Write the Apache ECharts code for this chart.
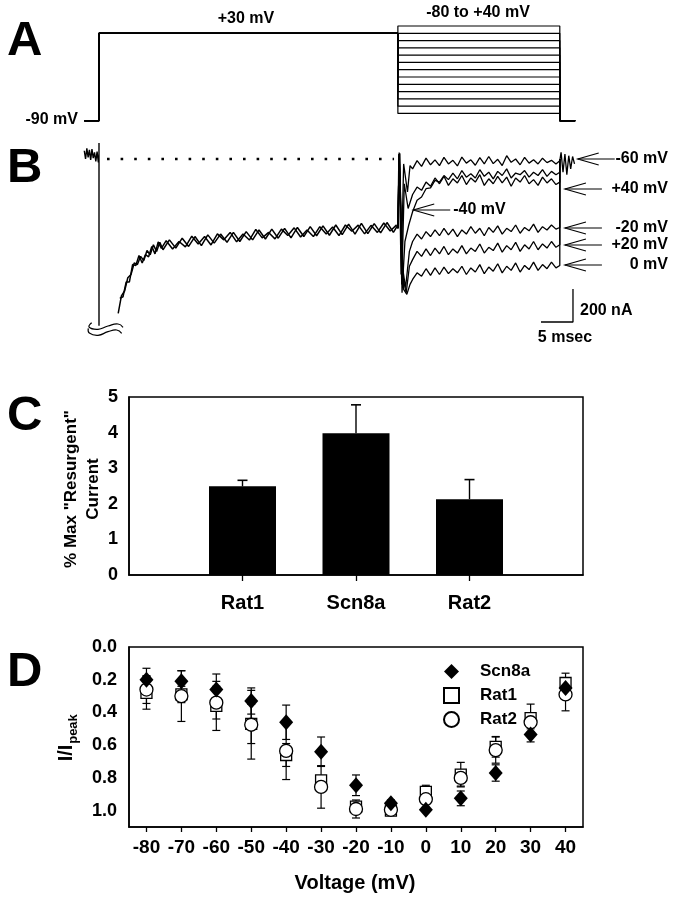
<!DOCTYPE html>
<html><head><meta charset="utf-8">
<script src="https://cdn.jsdelivr.net/npm/echarts@6/dist/echarts.min.js"></script>
<style>html,body{margin:0;padding:0;background:#fff}#c{width:676px;height:899px}</style>
</head><body><div id="c"></div>
<script>
const FONT = '"Liberation Sans", Arial, Helvetica, sans-serif';

// ---------- Panel A: voltage protocol (ms, mV) ----------
const holdV = -90;
const prepulseV = 30;
const testLevels = [-80,-70,-60,-50,-40,-30,-20,-10,0,10,20,30,40];
const protoT = [-2.3, 0, 46.7, 72, 74.4]; // start, prepulse on, test on, test off, end

// ---------- Panel B: currents (ms, nA) ----------
const preT = [-2.3,-2.1,-1.9,-1.7,-1.5,-1.3,-1.1,-0.9,-0.7,-0.5,-0.3,-0.1,0,0,0];
const preI = [50,0,65,10,55,-5,60,5,40,-15,45,-20,20,97,-1010];
const recT = [3.0,3.5,4.0,4.5,5.0,5.5,6.0,6.5,7.0,7.5,8.0,8.5,9.0,9.5,10,11,12,13,14,15,16,17,18,19,20,21,22,23,24,25,26,27,28,29,30,31,32,33,34,35,36,37,38,39,40,41,42,43,44,45,46,46.7];
const recI = [-935,-830,-800,-720,-700,-630,-640,-590,-615,-555,-580,-520,-560,-505,-550,-490,-540,-480,-530,-470,-525,-460,-510,-455,-505,-445,-500,-440,-490,-430,-485,-425,-480,-420,-478,-415,-470,-410,-465,-405,-462,-400,-458,-395,-455,-390,-452,-392,-448,-385,-445,-400];
const rec2T = [3.25,3.75,4.25,4.75,5.25,5.75,6.25,6.75,7.25,7.75,8.25,8.75,9.25,9.75,10.5,11.5,12.5,13.5,14.5,15.5,16.5,17.5,18.5,19.5,20.5,21.5,22.5,23.5,24.5,25.5,26.5,27.5,28.5,29.5,30.5,31.5,32.5,33.5,34.5,35.5,36.5,37.5,38.5,39.5,40.5,41.5,42.5,43.5,44.5,45.5,46.5];
const rec2I = [-845,-835,-745,-745,-640,-645,-585,-630,-580,-593,-530,-575,-502,-542,-495,-545,-500,-533,-468,-515,-470,-521,-454,-490,-445,-502,-455,-491,-427,-478,-445,-484,-425,-464,-417,-473,-430,-470,-410,-454,-412,-464,-400,-438,-401,-454,-402,-445,-388,-436,-399];
const baselineT = [1.25, 46.1];
const baselineI = [0, 0];
// test-pulse traces: transient part then noisy part on shared time base
const postT = [49.0,49.7,50.4,51.1,51.8,52.5,53.2,53.9,54.6,55.3,56.0,56.7,57.4,58.1,58.8,59.5,60.2,60.9,61.6,62.3,63.0,63.7,64.4,65.1,65.8,66.5,67.2,67.9,68.6,69.3,70.0,70.7,71.4,72.0];
const tracem60T = [46.7,46.9,47.2,47.6,48.2,48.6];
const tracem60I = [-420,40,-700,-30,-200,-40];
const tracem60 = [-60,-10,-45,5,-35,-5,-40,10,-30,-8,-42,12,-25,-5,-38,8,-30,15,-28,-2,-40,20,-20,0,-35,10,-25,-5,-30,5,-22,-8,-30,-10];
const tracep40T = [46.7,46.95,47.3,47.7,48.3];
const tracep40I = [-420,30,-760,-150,-300];
const tracep40 = [-215,-170,-190,-140,-165,-115,-150,-105,-160,-120,-145,-100,-155,-115,-140,-95,-160,-120,-150,-105,-145,-110,-165,-115,-140,-100,-150,-125,-160,-110,-145,-120,-155,-140];
const tracem40T = [46.7,47.0,47.35,47.8,48.4];
const tracem40I = [-420,35,-810,-500,-400];
const tracem40 = [-320,-250,-230,-180,-175,-130,-140,-100,-125,-85,-120,-70,-110,-90,-115,-65,-105,-80,-120,-75,-100,-60,-115,-85,-95,-70,-110,-80,-100,-65,-105,-75,-95,-80];
const tracem20T = [46.7,46.9,47.4,47.9,48.5];
const tracem20I = [-420,20,-650,-780,-560];
const tracem20 = [-500,-455,-485,-440,-470,-430,-465,-420,-460,-425,-470,-430,-455,-410,-450,-420,-465,-415,-445,-405,-455,-420,-440,-400,-450,-415,-435,-395,-445,-410,-430,-400,-425,-415];
const tracep20T = [46.7,46.85,47.5,48.0,48.5];
const tracep20I = [-420,30,-720,-810,-650];
const tracep20 = [-610,-560,-590,-545,-585,-540,-575,-530,-580,-545,-570,-525,-575,-540,-560,-515,-570,-535,-555,-510,-565,-525,-550,-505,-560,-520,-545,-500,-550,-515,-540,-500,-535,-520];
const trace0T = [46.7,46.9,47.6,48.1,48.6];
const trace0I = [-420,25,-790,-820,-760];
const trace0 = [-730,-690,-710,-665,-705,-660,-700,-655,-695,-665,-690,-650,-700,-660,-685,-640,-695,-655,-680,-635,-690,-650,-675,-630,-685,-645,-670,-625,-675,-640,-665,-625,-660,-645];
const tailT = [72.0,72.2,72.5,72.8,73.1,73.4,73.7,74.0,74.3];
const tailI = [0,40,-80,30,-95,20,-60,15,-30];
const scaleBarT = 5, scaleBarI = 200, scaleBarOrigin = [74.06, -988];
const arrowText = ['-60 mV','+40 mV','-40 mV','-20 mV','+20 mV','0 mV'];
const arrowT = [74.8, 72.8, 49.1, 72.8, 72.8, 72.8];
const arrowI = [0, -182, -309, -418, -521, -642];

// ---------- Panel C ----------
const cCategories = ['Rat1','Scn8a','Rat2'];
const cValues = [2.49, 3.98, 2.13];
const cErrors = [0.17, 0.80, 0.55];

// ---------- Panel D ----------
const dVolt = [-80,-70,-60,-50,-40,-30,-20,-10,0,10,20,30,40];
const scn8aMean = [0.20,0.21,0.26,0.33,0.46,0.64,0.845,0.955,0.995,0.925,0.77,0.535,0.25];
const scn8aErr  = [0.07,0.065,0.095,0.08,0.105,0.09,0.063,0.02,0.01,0.045,0.05,0.045,0.05];
const rat1Mean  = [0.28,0.29,0.36,0.47,0.66,0.815,0.975,1.0,0.885,0.78,0.61,0.435,0.22];
const rat1Err   = [0.10,0.05,0.15,0.12,0.07,0.02,0.03,0.02,0.04,0.075,0.063,0.086,0.06];
const rat2Mean  = [0.26,0.30,0.34,0.475,0.635,0.855,0.99,0.995,0.93,0.80,0.63,0.46,0.29];
const rat2Err   = [0.085,0.155,0.10,0.21,0.175,0.13,0.055,0.02,0.05,0.05,0.08,0.04,0.10];
const dYTicks = [0,0.2,0.4,0.6,0.8,1.0];

// ================= build =================
const chart = echarts.init(document.getElementById('c'), null, {renderer:'canvas'});
const BLK = '#000';
const zip = (a,b) => a.map((v,i)=>[v,b[i]]);
const lineS = (data, xi, w, extra) => Object.assign({type:'line', xAxisIndex:xi, yAxisIndex:xi, data, symbol:'none',
  lineStyle:{color:BLK, width:w}, animation:false, silent:true, z:3}, extra||{});

const series = [];
// A
testLevels.forEach(lev => {
  series.push(lineS([[protoT[0],holdV],[protoT[1],holdV],[protoT[1],prepulseV],[protoT[2],prepulseV],
    [protoT[2],lev],[protoT[3],lev],[protoT[3],holdV],[protoT[4],holdV]], 0, 1.2));
});
// B
series.push(lineS(zip(preT,preI),1,1.4));
series.push(lineS(zip(recT,recI),1,1.5));
series.push(lineS(zip(rec2T,rec2I),1,1.5));
series.push(lineS(zip(baselineT,baselineI),1,3,{lineStyle:{color:BLK,width:2.6,type:[2.6,11],cap:'butt'}}));
const traces = [[tracem60T,tracem60I,tracem60,true],[tracep40T,tracep40I,tracep40],[tracem40T,tracem40I,tracem40],
  [tracem20T,tracem20I,tracem20],[tracep20T,tracep20I,tracep20],[trace0T,trace0I,trace0]];
traces.forEach(tr => {
  let d = zip(tr[0],tr[1]).concat(zip(postT,tr[2]));
  if (tr[3]) d = d.concat(zip(tailT,tailI)); else d.push([72.0,0]);
  series.push(lineS(d,1,1.3));
});
series.push(lineS([[scaleBarOrigin[0]-scaleBarT,scaleBarOrigin[1]],scaleBarOrigin,[scaleBarOrigin[0],scaleBarOrigin[1]+scaleBarI]],1,1.3));
// C
const cCat = [''].concat(cCategories,['']);
series.push({type:'bar', xAxisIndex:2, yAxisIndex:2, data:['-'].concat(cValues,['-']), barWidth:67,
  itemStyle:{color:BLK, opacity:1}, animation:false, z:2});
series.push({type:'custom', xAxisIndex:2, yAxisIndex:2, animation:false, z:3,
  data: cCategories.map((c,i)=>[c,cValues[i],cErrors[i]]),
  renderItem:(params,api)=>{
    const p0 = api.coord([api.value(0), api.value(1)]);
    const p1 = api.coord([api.value(0), api.value(1)+api.value(2)]);
    return {type:'group', children:[
      {type:'line', shape:{x1:p0[0],y1:p0[1],x2:p1[0],y2:p1[1]}, style:{stroke:BLK,lineWidth:1.4}},
      {type:'line', shape:{x1:p1[0]-5,y1:p1[1],x2:p1[0]+5,y2:p1[1]}, style:{stroke:BLK,lineWidth:1.6}}]};
  }});
// D
const errD = (mean, err) => ({type:'custom', xAxisIndex:3, yAxisIndex:3, animation:false, z:3,
  data: dVolt.map((v,i)=>[v,mean[i],err[i]]),
  renderItem:(params,api)=>{
    const x=api.value(0), m=api.value(1), e=api.value(2);
    const a=api.coord([x,m-e]), b=api.coord([x,m+e]);
    const st={stroke:BLK,lineWidth:1.2};
    return {type:'group', children:[
      {type:'line', shape:{x1:a[0],y1:a[1],x2:b[0],y2:b[1]}, style:st},
      {type:'line', shape:{x1:a[0]-4,y1:a[1],x2:a[0]+4,y2:a[1]}, style:st},
      {type:'line', shape:{x1:b[0]-4,y1:b[1],x2:b[0]+4,y2:b[1]}, style:st}]};
  }});
series.push(errD(rat1Mean,rat1Err), errD(rat2Mean,rat2Err), errD(scn8aMean,scn8aErr));
series.push({type:'scatter', name:'Rat1', xAxisIndex:3, yAxisIndex:3, data:zip(dVolt,rat1Mean), symbol:'rect', symbolSize:11,
  itemStyle:{color:'#fff', borderColor:BLK, borderWidth:1.3, opacity:1}, animation:false, z:5});
series.push({type:'scatter', name:'Rat2', xAxisIndex:3, yAxisIndex:3, data:zip(dVolt,rat2Mean), symbol:'circle', symbolSize:13,
  itemStyle:{color:'#fff', borderColor:BLK, borderWidth:1.3, opacity:1}, animation:false, z:6});
series.push({type:'scatter', name:'Scn8a', xAxisIndex:3, yAxisIndex:3, data:zip(dVolt,scn8aMean), symbol:'diamond', symbolSize:[14,16],
  itemStyle:{color:BLK, opacity:1}, animation:false, z:7});

const hidden = {show:false};
const lblStyle = (size) => ({fontFamily:FONT, fontWeight:'bold', fontSize:size, color:BLK});
const option = {
  backgroundColor:'#fff',
  animation:false,
  grid:[
    {left:79.8, top:18.74, width:499.2, height:109.24, show:false},
    {left:79.8, top:134.25, width:499.2, height:206.25, show:false},
    {left:129, top:397, width:454, height:178, show:true, borderColor:BLK, borderWidth:1.5},
    {left:129, top:647, width:454, height:180, show:true, borderColor:BLK, borderWidth:1.5}
  ],
  xAxis:[
    {gridIndex:0, type:'value', min:-3, max:75, show:false},
    {gridIndex:1, type:'value', min:-3, max:75, show:false},
    {gridIndex:2, type:'category', data:cCat, boundaryGap:false,
      axisLine:{onZero:false, lineStyle:{color:BLK,width:1.5}},
      axisTick:{show:true, length:6, lineStyle:{color:BLK,width:1.3}, interval:(i)=> i>=1 && i<=cCategories.length},
      axisLabel:Object.assign({interval:0, margin:18}, lblStyle(20)), splitLine:hidden},
    {gridIndex:3, type:'value', min:-85, max:45,
      axisLine:{onZero:false, lineStyle:{color:BLK,width:1.5}},
      axisTick:{show:true, length:5, lineStyle:{color:BLK,width:1.3}, customValues:dVolt},
      axisLabel:Object.assign({margin:11, customValues:dVolt}, lblStyle(19)), splitLine:hidden}
  ],
  yAxis:[
    {gridIndex:0, type:'value', min:-100, max:50, show:false},
    {gridIndex:1, type:'value', min:-1100, max:150, show:false},
    {gridIndex:2, type:'value', min:0, max:5, interval:1,
      axisLine:{show:true, onZero:false, lineStyle:{color:BLK,width:1.5}}, axisTick:hidden,
      axisLabel:Object.assign({margin:11}, lblStyle(18)), splitLine:hidden},
    {gridIndex:3, type:'value', min:0, max:1.1, inverse:true,
      axisLine:{show:true, onZero:false, lineStyle:{color:BLK,width:1.5}}, axisTick:hidden,
      axisLabel:Object.assign({margin:12, customValues:dYTicks, formatter:(v)=>v.toFixed(1)}, lblStyle(18)), splitLine:hidden}
  ],
  legend:{data:['Scn8a','Rat1','Rat2'], orient:'vertical', left:438, top:658, itemWidth:15, itemHeight:15, itemGap:7,
    selectedMode:false, textStyle:Object.assign({padding:[0,0,0,16]}, lblStyle(17))},
  series
};
chart.setOption(option);

// ---------- annotations ----------
const g = [];
const txt = (x,y,s,size,align,extra) => Object.assign({type:'text', x, y, silent:true,
  style:{text:s, fill:BLK, font:`bold ${size}px ${FONT}`, textAlign:align||'left', textVerticalAlign:'middle'}}, extra||{});
// panel letters
[['A',41],['B',168],['C',416],['D',672]].forEach(([L,y]) => g.push(txt(7,y,L,49,'left')));
// panel A labels
g.push(txt(246,19,'+30 mV',16,'center'));
g.push(txt(478,13,'-80 to +40 mV',16,'center'));
g.push(txt(78,120,'-90 mV',16,'right'));
// panel B arrows
arrowText.forEach((s,i) => {
  const p = chart.convertToPixel({gridIndex:1}, [arrowT[i], arrowI[i]]);
  const x=p[0], y=p[1];
  const st = {stroke:BLK, lineWidth:1.1};
  g.push({type:'polyline', silent:true, shape:{points:[[x+21,y-6],[x,y],[x+21,y+6]]}, style:Object.assign({fill:null},st)});
  g.push({type:'line', silent:true, shape:{x1:x,y1:y,x2:x+37,y2:y}, style:st});
  if (i===2) g.push(txt(x+40,y,s,16,'left'));
  else g.push(txt(668,y,s,16,'right'));
});
// scale bar labels
const sb = chart.convertToPixel({gridIndex:1}, scaleBarOrigin);
g.push(txt(sb[0]+7, sb[1]-11, scaleBarI+' nA',16,'left'));
g.push(txt(sb[0]-8, sb[1]+16, scaleBarT+' msec',16,'center'));
// axis break symbol
g.push({type:'polyline', silent:true, shape:{points:[[91.7,322.7],[89,327],[98,329.3],[108,326],[118,324],[123,327.3]], smooth:0.5},
  style:{stroke:BLK, lineWidth:1.2, fill:null}});
g.push({type:'polyline', silent:true, shape:{points:[[88.3,328.3],[89.3,333],[98,335.3],[108,331.7],[116.7,330],[121.7,333.3]], smooth:0.5},
  style:{stroke:BLK, lineWidth:1.2, fill:null}});
// panel C y title
g.push({type:'text', x:82, y:489, rotation:Math.PI/2, silent:true, style:{text:'% Max "Resurgent"\nCurrent', fill:BLK,
  font:`bold 17px ${FONT}`, textAlign:'center', textVerticalAlign:'middle', lineHeight:22}});
// panel D axis titles
g.push(txt(66,753,'I/I',20,'center',{rotation:Math.PI/2}));
g.push(txt(73,729,'peak',13,'center',{rotation:Math.PI/2}));
g.push(txt(355,883,'Voltage (mV)',20,'center'));
chart.setOption({graphic:{elements:g}});
</script></body></html>
